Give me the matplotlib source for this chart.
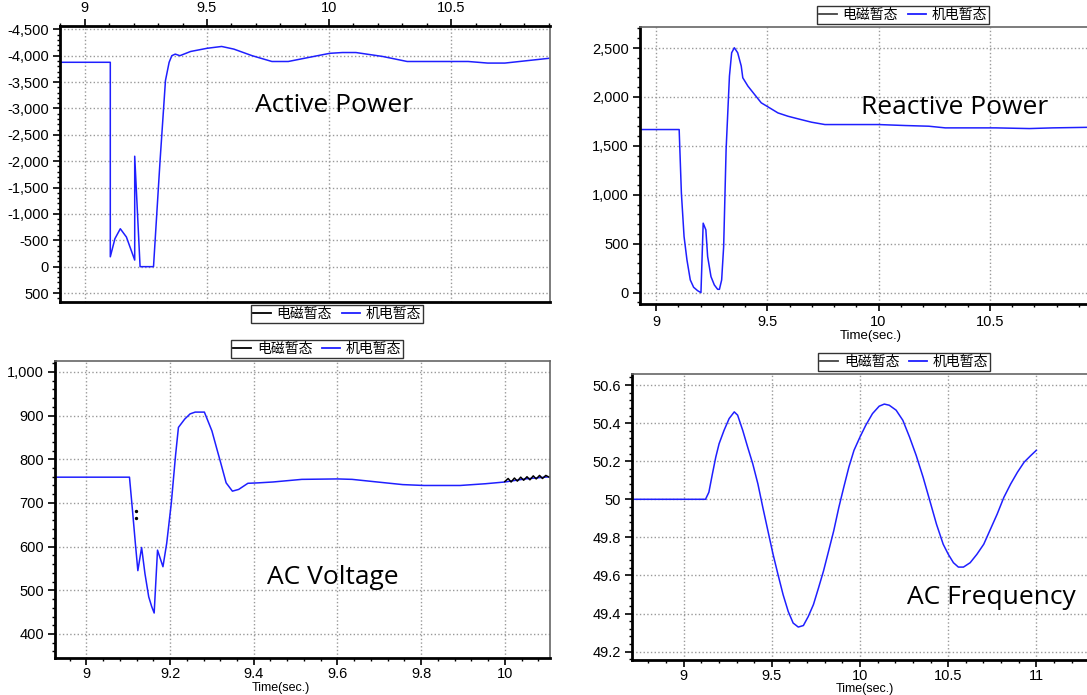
import matplotlib
matplotlib.use('Agg')
import matplotlib.pyplot as plt
from matplotlib.ticker import AutoMinorLocator, FuncFormatter, MultipleLocator, FixedLocator

plt.rcParams['font.family'] = ['Liberation Sans', 'Noto Sans CJK SC', 'DejaVu Sans']
plt.rcParams['axes.unicode_minus'] = False

W, H = 1087, 695

# ---- data ----
# active power (panel is shown flipped: y axis runs downward)
p_t = [8.898, 9.104, 9.104, 9.123, 9.145, 9.17, 9.204, 9.204, 9.226, 9.281, 9.308,
       9.33, 9.345, 9.356, 9.37, 9.389, 9.433, 9.5, 9.56, 9.61, 9.685, 9.766,
       9.833, 9.92, 10.003, 10.055, 10.11, 10.22, 10.32, 10.57, 10.65, 10.72,
       10.82, 10.9]
p_v = [-3875, -3875, -187, -531, -719, -562, -125, -2094, 0, 0, -2020,
       -3530, -3875, -4000, -4030, -4000, -4080, -4140, -4175, -4125, -4000, -3890,
       -3890, -3970, -4045, -4060, -4060, -3985, -3890, -3890, -3860, -3860,
       -3910, -3950]

# reactive power
q_t = [8.928, 9.104, 9.114, 9.126, 9.139, 9.154, 9.169, 9.187, 9.202, 9.212,
       9.224, 9.232, 9.247, 9.262, 9.277, 9.285, 9.295, 9.304, 9.315, 9.33,
       9.34, 9.352, 9.367, 9.383, 9.39, 9.413, 9.443, 9.473, 9.503, 9.548,
       9.593, 9.639, 9.699, 9.759, 9.849, 10.0, 10.12, 10.226, 10.3, 10.407,
       10.527, 10.678, 10.783, 10.95]
q_v = [1667, 1667, 1018, 574, 335, 130, 55, 20, 0, 710,
       642, 369, 164, 79, 34, 34, 130, 471, 1462, 2213,
       2452, 2503, 2452, 2316, 2196, 2111, 2025, 1940, 1899, 1837,
       1803, 1776, 1742, 1718, 1718, 1718, 1708, 1701, 1684, 1684,
       1684, 1677, 1684, 1690]

# AC voltage
v_t = [8.925, 9.103, 9.110, 9.117, 9.123, 9.132, 9.140, 9.149, 9.156, 9.162,
       9.170, 9.183, 9.192, 9.203, 9.213, 9.22, 9.235, 9.248, 9.26, 9.282,
       9.3, 9.312, 9.321, 9.334, 9.349, 9.364, 9.386, 9.411, 9.446, 9.515,
       9.6, 9.635, 9.695, 9.756, 9.807, 9.893, 9.954, 10.0, 10.048, 10.108]
v_v = [759, 759, 685, 608, 545, 598, 538, 485, 463, 448,
       592, 554, 608, 700, 808, 873, 892, 904, 908, 908,
       865, 823, 792, 746, 727, 731, 745, 746, 748, 754,
       755, 754, 748, 742, 740, 740, 744, 748, 755, 760]
emt_t = [10.0, 10.008, 10.015, 10.023, 10.03, 10.038, 10.045, 10.053, 10.06,
         10.068, 10.075, 10.083, 10.09, 10.098, 10.108]
emt_v = [749, 756, 748, 757, 750, 759, 752, 760, 753, 762, 755, 763, 756, 763, 758]
dot_t = [9.119, 9.119]
dot_v = [682, 666]

# AC frequency
f_t = [8.707, 9.124, 9.143, 9.163, 9.182, 9.201, 9.229, 9.258, 9.287, 9.306,
       9.335, 9.363, 9.392, 9.421, 9.449, 9.478, 9.507, 9.535, 9.564, 9.593,
       9.621, 9.65, 9.679, 9.707, 9.736, 9.765, 9.793, 9.822, 9.851, 9.88,
       9.908, 9.937, 9.966, 10.0, 10.033, 10.071, 10.109, 10.138, 10.166, 10.205,
       10.243, 10.281, 10.319, 10.358, 10.396, 10.434, 10.472, 10.501, 10.53, 10.558,
       10.587, 10.625, 10.663, 10.702, 10.74, 10.778, 10.816, 10.855, 10.893, 10.931,
       10.969, 11.0]
f_v = [50.0, 50.0, 50.037, 50.133, 50.221, 50.292, 50.362, 50.424, 50.459, 50.442,
       50.362, 50.274, 50.186, 50.081, 49.957, 49.834, 49.711, 49.605, 49.499, 49.411,
       49.350, 49.329, 49.337, 49.385, 49.447, 49.535, 49.623, 49.728, 49.834, 49.957,
       50.063, 50.169, 50.257, 50.327, 50.389, 50.450, 50.489, 50.500, 50.494, 50.468,
       50.415, 50.327, 50.230, 50.116, 49.993, 49.869, 49.764, 49.711, 49.667, 49.644,
       49.644, 49.667, 49.711, 49.764, 49.843, 49.922, 50.010, 50.081, 50.142, 50.195,
       50.230, 50.257]

legend_labels = ['电磁暂态', '机电暂态']
titles = ['Active Power', 'Reactive Power', 'AC Voltage', 'AC Frequency']
q_xticks = [9, 9.5, 10, 10.5]
f_xticks = [9, 9.5, 10, 10.5, 11]

BLUE = '#1f1fff'

fig = plt.figure(figsize=(W / 100, H / 100), dpi=100)


def px_axes(left, top, right, bottom):
    return fig.add_axes([left / W, 1 - bottom / H, (right - left) / W, (bottom - top) / H])


def style(ax, thick=('left', 'bottom'), xmaj=0.5, ymaj=500, fmt=None):
    for s in ax.spines:
        if s in thick:
            ax.spines[s].set_linewidth(2.0)
            ax.spines[s].set_color('black')
        else:
            ax.spines[s].set_linewidth(1.2)
            ax.spines[s].set_color('#666666')
    ax.xaxis.set_major_locator(MultipleLocator(xmaj))
    ax.yaxis.set_major_locator(MultipleLocator(ymaj))
    ax.xaxis.set_minor_locator(AutoMinorLocator(5))
    ax.yaxis.set_minor_locator(AutoMinorLocator(5))
    ax.tick_params(which='major', length=5, width=1.2, labelsize=10.5, direction='out', pad=3)
    ax.tick_params(which='minor', length=2.5, width=1.0, direction='out')
    ax.grid(True, which='major', linestyle=':', color='#999999', linewidth=1)
    ax.xaxis.set_major_formatter(FuncFormatter(lambda v, p: f'{v:g}'))
    if fmt is None:
        ax.yaxis.set_major_formatter(FuncFormatter(lambda v, p: f'{v:,.0f}'))
    else:
        ax.yaxis.set_major_formatter(FuncFormatter(fmt))


def add_legend(ax, emt_color, loc, anchor):
    h1, = ax.plot([], [], color=emt_color, lw=1.3)
    h2, = ax.plot([], [], color=BLUE, lw=1.3)
    leg = ax.legend([h1, h2], legend_labels, loc=loc, bbox_to_anchor=anchor, ncol=2,
                    frameon=True, fancybox=False, edgecolor='black', borderpad=0.15,
                    handlelength=1.3, handletextpad=0.4, columnspacing=0.7,
                    borderaxespad=0.2,
                    prop={'family': ['Noto Sans CJK SC', 'DejaVu Sans'], 'size': 10})
    leg.get_frame().set_linewidth(1.0)
    return leg


# panel 1: active power (flipped view)
ax1 = px_axes(60, 26, 550, 302)
ax1.plot(p_t, p_v, color=BLUE, lw=1.1)
ax1.set_xlim(8.898, 10.905)
ax1.set_ylim(670, -4563)
style(ax1, thick=('left', 'top', 'bottom'))
ax1.xaxis.tick_top()
ax1.tick_params(axis='x', which='both', top=True, bottom=False)
add_legend(ax1, 'black', 'upper center', (0.565, 0.0))

# panel 2: reactive power
ax2 = px_axes(640, 27, 1101, 304)
ax2.plot(q_t, q_v, color=BLUE, lw=1.1)
ax2.set_xlim(8.928, 11.0)
ax2.set_ylim(-116, 2715)
style(ax2)
ax2.xaxis.set_major_locator(FixedLocator(q_xticks))
ax2.set_xlabel('Time(sec.)', fontsize=9.5, labelpad=1)
add_legend(ax2, '#444444', 'lower center', (0.57, 1.0))

# panel 3: AC voltage
ax3 = px_axes(55, 361, 550, 658)
ax3.plot(v_t, v_v, color=BLUE, lw=1.1)
ax3.plot(emt_t, emt_v, color='black', lw=1.1)
ax3.scatter(dot_t, dot_v, color='black', s=2, zorder=3)
ax3.set_xlim(8.925, 10.108)
ax3.set_ylim(345, 1025)
style(ax3, xmaj=0.2, ymaj=100)
ax3.tick_params(axis='x', which='major', pad=1.5)
ax3.set_xlabel('Time(sec.)', fontsize=9, labelpad=1)
ax3.xaxis.set_label_coords(0.457, -0.082)
add_legend(ax3, 'black', 'lower center', (0.53, 1.0))

# panel 4: AC frequency
ax4 = px_axes(632, 374, 1098, 660)
ax4.plot(f_t, f_v, color=BLUE, lw=1.1)
ax4.set_xlim(8.707, 11.35)
ax4.set_ylim(49.156, 50.658)
style(ax4, ymaj=0.2, fmt=lambda v, p: f'{round(v, 2):g}')
ax4.xaxis.set_major_locator(FixedLocator(f_xticks))
ax4.tick_params(axis='x', which='major', pad=1.5)
ax4.set_xlabel('Time(sec.)', fontsize=9, labelpad=1)
ax4.xaxis.set_label_coords(0.5, -0.08)
add_legend(ax4, '#444444', 'lower center', (0.584, 1.0))

# overlay captions
cap_pos = [(334, 105), (955, 107), (333, 578), (991, 597)]
for txt, (x, y) in zip(titles, cap_pos):
    fig.text(x / W, 1 - y / H, txt, ha='center', va='center', fontsize=19,
             family='Open Sans', color='black')

fig.savefig('out.png', dpi=100, facecolor='white')
